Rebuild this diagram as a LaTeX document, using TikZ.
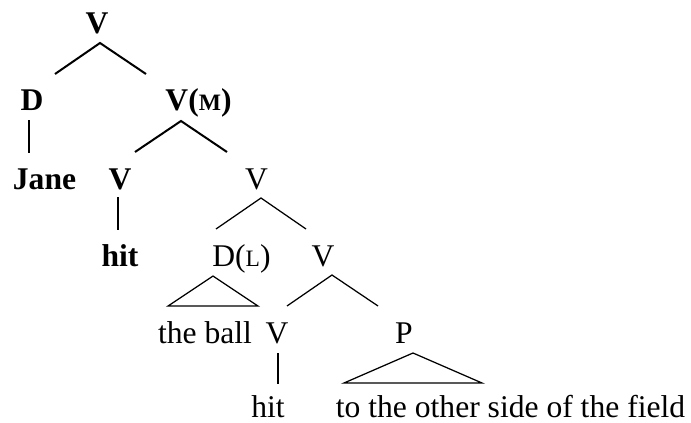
\documentclass[tikz,border=0pt]{standalone}
\usepackage{fontspec}
\setmainfont{Liberation Serif}
\newcommand{\fakesc}[1]{{\fontsize{23.5}{24}\selectfont #1}}
\begin{document}
\begin{tikzpicture}[x=1pt,y=-1pt,
  lab/.style={anchor=base,inner sep=0pt,font=\fontsize{31.6}{34}\selectfont},
  blab/.style={lab,font=\fontsize{31.6}{34}\selectfont\bfseries},
  thick line/.style={line width=2pt},
  thin line/.style={line width=1.25pt}]
\useasboundingbox (0,0) rectangle (691,423);
% labels
\node[blab] (v0) at (97,34) {V};
\node[blab] (d1) at (32,110) {D};
\node[blab] (vm) at (198.5,110) {V(\fakesc{M})};
\node[blab] (jane) at (44.5,189) {Jane};
\node[blab] (vb) at (120,189) {V};
\node[lab] (vr) at (256.5,189) {V};
\node[blab] (hitb) at (120,266) {hit};
\node[lab] (dl) at (241.5,266) {D(\fakesc{L})};
\node[lab] (v2) at (323,266) {V};
\node[lab] (ball) at (205,343) {the ball};
\node[lab] (v3) at (277,343) {V};
\node[lab] (p) at (404,343) {P};
\node[lab] (hit) at (268,417) {hit};
\node[lab] (field) at (510.5,417) {to the other side of the field};
% connector points
\coordinate (a0) at (100,43);  \coordinate (a0l) at (55,74);  \coordinate (a0r) at (146,74);
\coordinate (dt) at (29,120);  \coordinate (db) at (29,153);
\coordinate (am) at (181,121); \coordinate (aml) at (135,152); \coordinate (amr) at (227,152);
\coordinate (vbt) at (118,197); \coordinate (vbb) at (118,230);
\coordinate (ar) at (261,198); \coordinate (arl) at (216,229); \coordinate (arr) at (306,229);
\coordinate (tdl) at (213,276); \coordinate (tdll) at (168,306); \coordinate (tdlr) at (258,306);
\coordinate (a2) at (332,275); \coordinate (a2l) at (287,306); \coordinate (a2r) at (378,306);
\coordinate (v3t) at (278,353); \coordinate (v3b) at (278,384);
\coordinate (tp) at (413,353); \coordinate (tpl) at (344,383); \coordinate (tpr) at (482,383);
% connectors
\draw[thick line] (a0l) -- (a0) -- (a0r);
\draw[thick line] (dt) -- (db);
\draw[thick line] (aml) -- (am) -- (amr);
\draw[thick line] (vbt) -- (vbb);
\draw[thin line] (arl) -- (ar) -- (arr);
\draw[thin line] (tdll) -- (tdl) -- (tdlr) -- cycle;
\draw[thin line] (a2l) -- (a2) -- (a2r);
\draw[thin line] (v3t) -- (v3b);
\draw[thin line] (tpl) -- (tp) -- (tpr) -- cycle;
\end{tikzpicture}
\end{document}
